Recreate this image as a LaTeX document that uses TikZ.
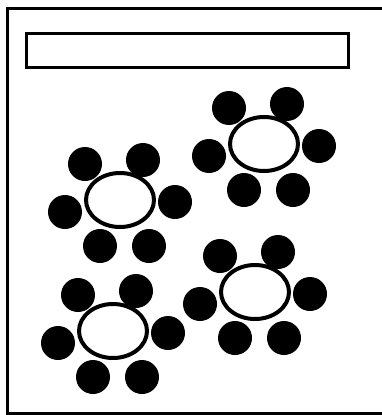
\documentclass[tikz,border=0pt]{standalone}
\usepackage{tikz}
\usetikzlibrary{shapes.geometric,calc}

\begin{document}
\begin{tikzpicture}[
    x=1pt, y=-1pt,
    table/.style={draw=black, ellipse, line width=4pt,
      minimum width=68pt, minimum height=54pt, inner sep=0pt},
    chair/.style={circle, fill=black, minimum size=34pt, inner sep=0pt},
    frame/.style={line width=3pt}
  ]
    \useasboundingbox (0,0) rectangle (382,415);
    % room and the long board at the top
    \draw[frame] (384,8) -- (7,8) -- (7,413) -- (384,413);
    \draw[frame] (26.5,33.5) rectangle (348.5,67.5);
    % four tables, six chairs each
    \foreach \i/\cx/\cy in {1/120/200, 2/264/144, 3/113/331, 4/255/292} {
      \node[table] (t\i) at (\cx,\cy) {};
      \node[chair] (t\i-a) at ($(t\i)+(-35,-36)$) {};
      \node[chair] (t\i-b) at ($(t\i)+(23,-40)$) {};
      \node[chair] (t\i-c) at ($(t\i)+(-55,12)$) {};
      \node[chair] (t\i-d) at ($(t\i)+(55,2)$) {};
      \node[chair] (t\i-e) at ($(t\i)+(-20,46)$) {};
      \node[chair] (t\i-f) at ($(t\i)+(29,46)$) {};
    }
  \end{tikzpicture}
\end{document}
